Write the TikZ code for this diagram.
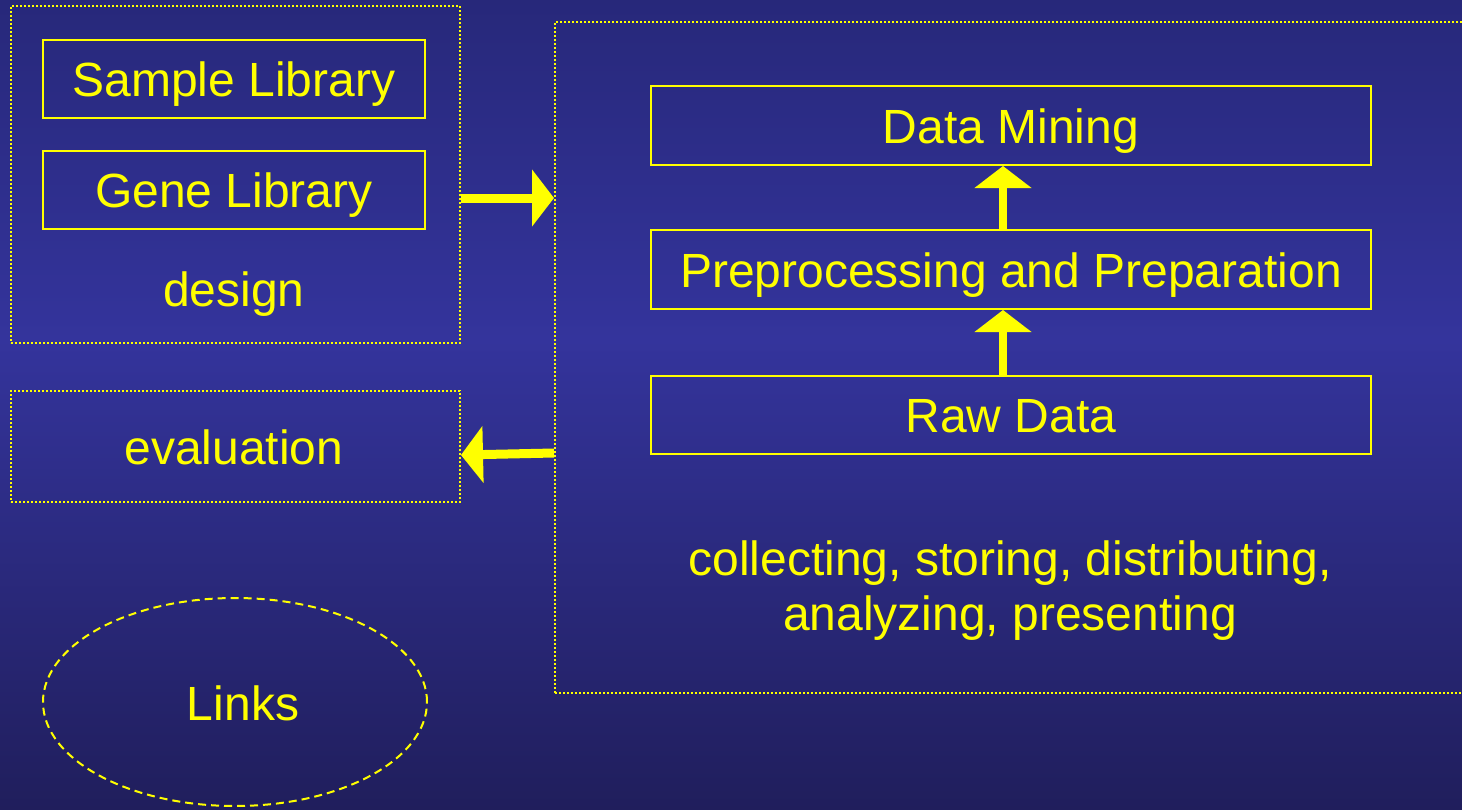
\documentclass[tikz,border=0pt]{standalone}
\usepackage{fontspec}
\setmainfont{Liberation Sans}
\usetikzlibrary{arrows.meta,shapes.geometric}
\definecolor{ylw}{HTML}{FFFF00}
\definecolor{bgtop}{HTML}{27287A}
\definecolor{bgmid}{HTML}{34349C}
\definecolor{bgbot}{HTML}{201E5C}
\pgfdeclareverticalshading{bgshade}{100bp}{color(0bp)=(bgbot); color(25bp)=(bgbot); color(54bp)=(bgmid); color(75bp)=(bgtop); color(100bp)=(bgtop)}
\begin{document}
\begin{tikzpicture}[x=1pt,y=-1pt,
  every node/.style={text=ylw, font=\fontsize{48}{56}\selectfont, text height=35pt, text depth=0pt},
  solidbox/.style={draw=ylw, line width=2pt, inner sep=0pt},
  dotbox/.style={draw=ylw, line width=2pt, dash pattern=on 2pt off 2pt, inner sep=0pt},
  bigarrow/.style={ylw, line width=9pt, -{Triangle[length=22pt,width=56pt]}},
  uparrow/.style={ylw, line width=8pt, -{Triangle[length=22pt,width=56pt]}}]
\useasboundingbox (0,0) rectangle (1462,809);
\clip (0,0) rectangle (1462,809);
\shade[shading=bgshade] (0,0) rectangle (1462,809);
% left dotted boxes
\node[dotbox, minimum width=449pt, minimum height=337pt] (designbox) at (235.5,174.5) {};
\node[dotbox, minimum width=449pt, minimum height=111pt] (evalbox) at (235.5,446.5) {};
\node[dotbox, minimum width=920pt, minimum height=671pt] (bigbox) at (1015,357.5) {};
% library boxes
\node[solidbox, minimum width=382pt, minimum height=78pt] (sample) at (234,79) {Sample Library};
\node[solidbox, minimum width=382pt, minimum height=78pt] (gene) at (234,190) {Gene Library};
\node (design) at (234,289) {design};
\node (evaltxt) at (234,446.5) {evaluation};
% right boxes
\node[solidbox, minimum width=720pt, minimum height=79pt] (mining) at (1011,125.5) {Data Mining};
\node[solidbox, minimum width=720pt, minimum height=79pt] (prep) at (1011,269.5) {Preprocessing and Preparation};
\node[solidbox, minimum width=720pt, minimum height=78pt] (raw) at (1011,415) {Raw Data};
\node[anchor=base, text height=, text depth=] (collect1) at (1010,575) {collecting, storing, distributing,};
\node[anchor=base, text height=, text depth=] (collect2) at (1010,630) {analyzing, presenting};
% links ellipse
\node[ellipse, draw=ylw, line width=2pt, dash pattern=on 8pt off 5pt, minimum width=384pt, minimum height=208pt, inner sep=0pt] (links) at (235,702) {};
\node (linkstxt) at (243,702.5) {Links};
% arrows
\coordinate (a1s) at ([yshift=-8pt]designbox.east |- gene.east);
\coordinate (a1e) at (bigbox.west |- a1s);
\draw[bigarrow] (a1s) -- (a1e);
\coordinate (a2s) at (bigbox.west |- 0,453);
\coordinate (a2e) at (evalbox.east |- 0,455);
\draw[bigarrow] (a2s) -- (a2e);
\draw[uparrow] ([xshift=-8pt]raw.north) -- ([xshift=-8pt]prep.south);
\draw[uparrow] ([xshift=-8pt]prep.north) -- ([xshift=-8pt]mining.south);
\end{tikzpicture}
\end{document}
